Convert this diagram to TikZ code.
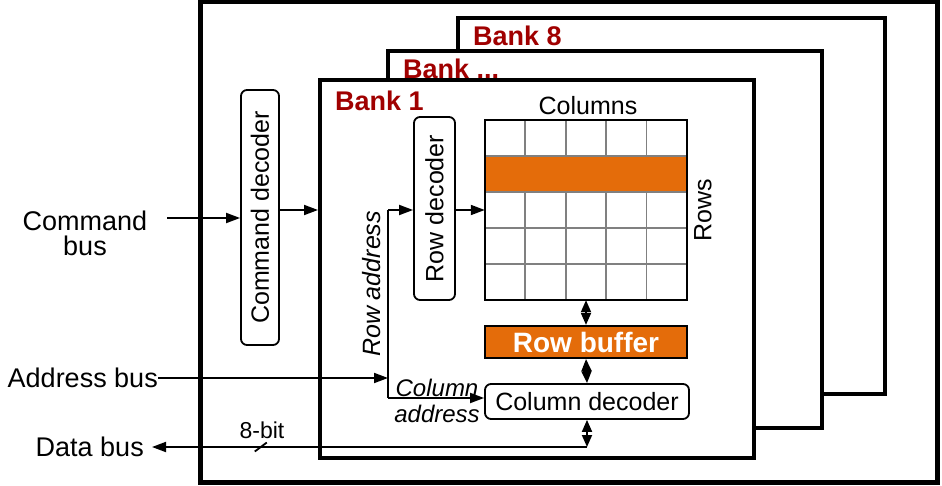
\documentclass[tikz,border=0pt]{standalone}
\usepackage{fontspec}
\setmainfont{Liberation Sans}
\usepackage{xcolor}
\usepackage{tikz}
\usetikzlibrary{arrows.meta,positioning,calc}
\definecolor{bankred}{HTML}{A00000}
\definecolor{rowfill}{HTML}{E46C0A}
\definecolor{gridgray}{HTML}{808080}

\begin{document}
\begin{tikzpicture}[x=1pt, y=-1pt,
  chipbox/.style={draw, line width=5pt, fill=white, inner sep=0pt},
  bankbox/.style={draw, line width=4pt, fill=white, inner sep=0pt},
  banklabel/.style={anchor=west, inner sep=0pt, text=bankred,
    font=\fontsize{27}{27}\selectfont\bfseries},
  decbox/.style={draw, line width=1.8pt, rounded corners=6pt, fill=white,
    inner sep=0pt, font=\fontsize{25}{25}\selectfont},
  lbl/.style={inner sep=0pt, font=\fontsize{25}{25}\selectfont},
  buslbl/.style={inner sep=0pt, align=center, font=\fontsize{27}{25}\selectfont},
  wire/.style={line width=1.8pt},
  arr/.style={wire, -{Triangle[length=14pt,width=10pt]}},
  darr/.style={wire, {Triangle[length=12pt,width=10pt]}-{Triangle[length=12pt,width=10pt]}}]
  \useasboundingbox (0,0) rectangle (942,486);

  % chip and banks
  \node[chipbox, minimum width=737pt, minimum height=480pt] (chip) at (568.5,242) {};
  \node[bankbox, minimum width=427pt, minimum height=376pt] (bank8) at (671.5,206) {};
  \node[banklabel] (bank8lbl) at ($(bank8.north west)+(17,20)$) {Bank 8};
  \node[bankbox, minimum width=434pt, minimum height=377pt] (bankn) at (605,239.5) {};
  \node[banklabel] (banknlbl) at ($(bankn.north west)+(17,20)$) {Bank ...};
  \node[bankbox, minimum width=434pt, minimum height=378pt] (bank1) at (537,269) {};
  \node[banklabel] (bank1lbl) at ($(bank1.north west)+(17,23)$) {Bank 1};

  % decoders
  \node[decbox, minimum width=38pt, minimum height=255pt] (cmddec) at (260,217.5)
    {\rotatebox{90}{Command decoder}};
  \node[decbox, minimum width=41pt, minimum height=183pt] (rowdec) at (434.5,208.5)
    {\rotatebox{90}{Row decoder}};
  \node[decbox, minimum width=204pt, minimum height=35pt] (coldec) at (587,401.5)
    {Column decoder};

  % cell array
  \node[minimum width=202pt, minimum height=180pt, inner sep=0pt] (array) at (586,210) {};
  \foreach \i in {1,...,4} {
    \draw[wire, gridgray] ($(array.north west)+(\i*40.4,0)$) -- ($(array.south west)+(\i*40.4,0)$);
    \draw[wire, gridgray] ($(array.north west)+(0,\i*36)$) -- ($(array.north east)+(0,\i*36)$);
  }
  \fill[rowfill] ($(array.north west)+(0,37)$) rectangle ($(array.north east)+(0,71)$);
  \draw[line width=2.2pt] (array.north west) rectangle (array.south east);
  \node[lbl] (colslbl) at (588,106) {Columns};
  \node[lbl] (rowslbl) at (703,210) {\rotatebox{90}{Rows}};

  \node[draw, line width=2.2pt, fill=rowfill, minimum width=202pt, minimum height=32pt,
        inner sep=0pt, text=white, font=\fontsize{28}{28}\selectfont\bfseries]
        (rowbuf) at (586,342) {Row buffer};

  % buses
  \node[buslbl] (cmdbus) at (85,233) {Command\\bus};
  \node[buslbl, anchor=east] (addrbus) at (158,378) {Address bus};
  \node[buslbl, anchor=east] (databus) at (144,447) {Data bus};
  \coordinate (cmdin) at (167,218);
  \coordinate (rowtap) at (388,210);
  \coordinate (coltap) at (388,398);
  \coordinate (dataout) at (152,447);
  \coordinate (datatap) at (587,447);

  \draw[arr] (cmdin) -- (cmdin -| cmddec.west);
  \draw[arr] (cmddec.east |- rowtap) -- (bank1.west |- rowtap);
  \draw[arr] (addrbus.east) -- (addrbus.east -| rowtap);
  \draw[wire] (rowtap) -- (coltap);
  \draw[arr] (rowtap) -- (rowtap -| rowdec.west);
  \draw[arr] (coltap) -- (coltap -| coldec.west);
  \draw[arr] (rowdec.east |- rowtap) -- (array.west |- rowtap);

  \draw[darr] (array.south) -- (rowbuf.north);
  \draw[darr] (rowbuf.south) -- (coldec.north);
  \draw[darr] (coldec.south) -- (datatap);
  \draw[arr] (datatap) -- (dataout);
  \draw[wire] ($(dataout)!0.25!(datatap)+(-6,4.5)$) -- ++(12,-9);
  \node[lbl, font=\fontsize{23}{23}\selectfont] (buswidth) at (262,430) {8-bit};

  \node[lbl] (rowaddr) at (372,284) {\rotatebox{90}{\itshape Row address}};
  \node[lbl, align=center, font=\fontsize{24}{26}\selectfont\itshape] (coladdr) at (437,401)
    {Column\\address};
\end{tikzpicture}
\end{document}
